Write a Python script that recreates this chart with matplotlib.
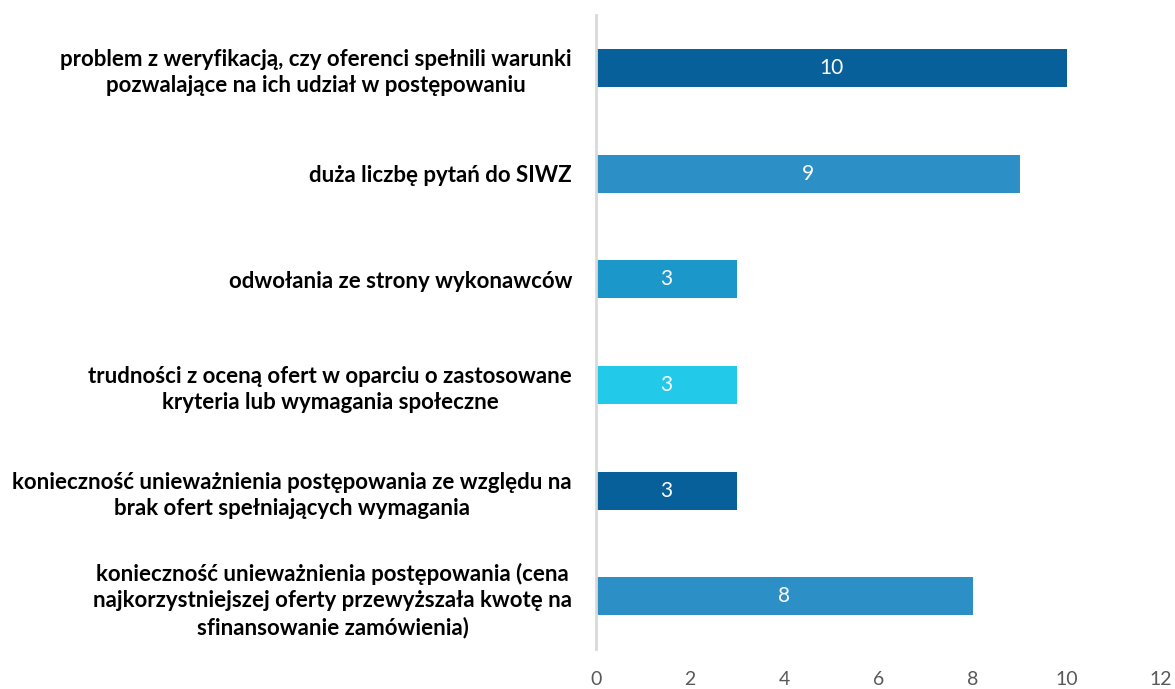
import matplotlib.pyplot as plt

categories = [
    'problem z weryfikacją, czy oferenci spełnili warunki\npozwalające na ich udział w postępowaniu',
    'duża liczbę pytań do SIWZ',
    'odwołania ze strony wykonawców',
    'trudności z oceną ofert w oparciu o zastosowane\nkryteria lub wymagania społeczne',
    'konieczność unieważnienia postępowania ze względu na\nbrak ofert spełniających wymagania',
    'konieczność unieważnienia postępowania (cena\nnajkorzystniejszej oferty przewyższała kwotę na\nsfinansowanie zamówienia)',
]
values = [10, 9, 3, 3, 3, 8]
colors = ['#08609A', '#2C8FC6', '#1B98C9', '#22C9E8', '#08609A', '#2C8FC6']
xticks = [0, 2, 4, 6, 8, 10, 12]

plt.rcParams['font.family'] = ['Lato', 'DejaVu Sans']

fig = plt.figure(figsize=(11.75, 6.89), dpi=100)
ax = fig.add_axes([0.507, 0.058, 0.481, 0.92])

pos = list(range(len(values)))
bars = ax.barh(pos, values, height=0.36, color=colors)
for b, v in zip(bars, values):
    ax.text(v / 2, b.get_y() + b.get_height() / 2, str(v), ha='center', va='center',
            color='white', fontsize=15)

ax.set_ylim(len(values) - 0.5, -0.5)
ax.set_xlim(0, 12)
ax.set_yticks(pos)
ax.set_yticklabels(categories, fontsize=16, fontweight='bold', ha='right',
                   multialignment='center', linespacing=1.3)
ax.tick_params(axis='y', length=0, pad=17)
ax.set_xticks(xticks)
ax.tick_params(axis='x', length=0, labelsize=14, labelcolor='#595959', pad=16)

for s in ['top', 'right', 'bottom']:
    ax.spines[s].set_visible(False)
ax.spines['left'].set_color('#D9D9D9')
ax.spines['left'].set_linewidth(2)

fig.savefig('out.png', dpi=100)
